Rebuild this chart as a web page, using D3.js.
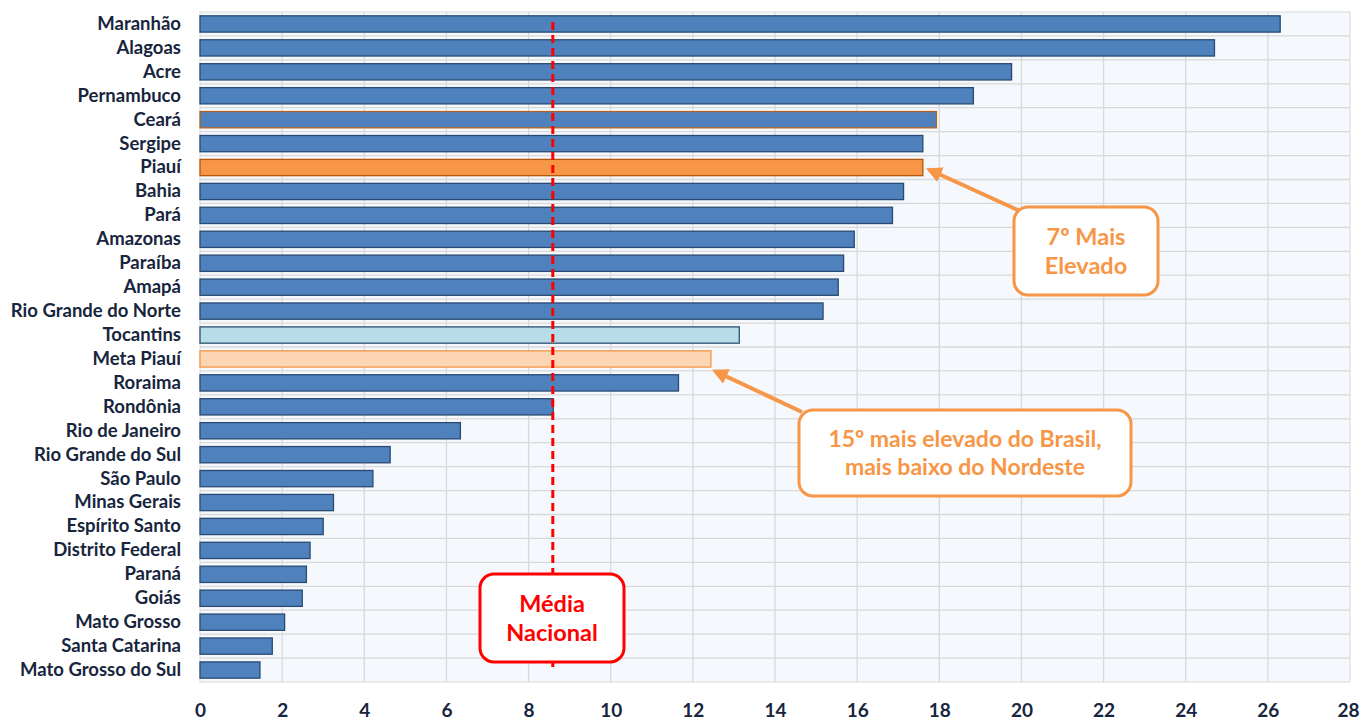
<!DOCTYPE html>
<html>
<head>
<meta charset="utf-8">
<script src="https://cdnjs.cloudflare.com/ajax/libs/d3/7.8.5/d3.min.js"></script>
<style>
  body { margin: 0; background: #fff; }
  text { font-family: Lato, "Open Sans", sans-serif; }
</style>
</head>
<body>
<div id="vis-parent"></div>
<script>
// data
var states = ['Maranhão','Alagoas','Acre','Pernambuco','Ceará','Sergipe','Piauí','Bahia','Pará',
  'Amazonas','Paraíba','Amapá','Rio Grande do Norte','Tocantins','Meta Piauí','Roraima','Rondônia',
  'Rio de Janeiro','Rio Grande do Sul','São Paulo','Minas Gerais','Espírito Santo','Distrito Federal',
  'Paraná','Goiás','Mato Grosso','Santa Catarina','Mato Grosso do Sul'];
var values = [26.3,24.7,19.76,18.83,17.93,17.6,17.6,17.13,16.86,
  15.93,15.67,15.54,15.17,13.13,12.44,11.65,8.6,
  6.34,4.63,4.21,3.25,3.0,2.68,2.59,2.49,2.06,1.76,1.46];
var mediaNacional = 8.59;
var xTicks = [0,2,4,6,8,10,12,14,16,18,20,22,24,26,28];

// special bars
var barStyle = {
  'Ceará':      { fill: '#4F81BD', stroke: '#B65F1C' },
  'Piauí':      { fill: '#F79646', stroke: '#B65708' },
  'Tocantins':  { fill: '#B7DEE8', stroke: '#2F4F6F' },
  'Meta Piauí': { fill: '#FCD5B5', stroke: '#F79646' }
};

var width = 1360, height = 720,
    margin = { top: 12, right: 10, bottom: 38, left: 200 },
    plotW = 1350 - margin.left,
    plotH = 682 - margin.top;

var svg = d3.select('#vis-parent').append('svg')
  .attr('width', width)
  .attr('height', height);

var x = d3.scaleLinear().domain([0,28]).range([0, plotW]);
var y = d3.scaleBand().domain(states).range([0, plotH]).paddingInner(0.32).paddingOuter(0.16);
var yGrid = d3.scaleBand().domain(states).range([0, plotH]);

var content = svg.append('g').attr('transform', translate(margin.left, margin.top));

// background + grid
content.append('rect')
  .attr('width', plotW).attr('height', plotH)
  .attr('fill', '#F5F8FC')
  .attr('stroke', '#D9D9D9');

content.selectAll('.vgrid').data(xTicks.slice(1, -1))
  .enter().append('line')
  .attr('class','vgrid')
  .attr('x1', function(d){ return x(d); }).attr('x2', function(d){ return x(d); })
  .attr('y1', 0).attr('y2', plotH)
  .attr('stroke', '#D9D9D9').attr('stroke-width', 1.3);

content.selectAll('.hgrid').data(states.slice(1))
  .enter().append('line')
  .attr('class','hgrid')
  .attr('x1', 0).attr('x2', plotW)
  .attr('y1', function(d){ return yGrid(d); }).attr('y2', function(d){ return yGrid(d); })
  .attr('stroke', '#D9D9D9').attr('stroke-width', 1.3);

// bars
content.selectAll('.bar').data(states)
  .enter().append('rect')
  .attr('class','bar')
  .attr('x', x(0))
  .attr('y', function(d){ return y(d); })
  .attr('width', function(d,i){ return x(values[i]) - x(0); })
  .attr('height', y.bandwidth())
  .attr('fill', function(d){ return barStyle[d] ? barStyle[d].fill : '#4F81BD'; })
  .attr('stroke', function(d){ return barStyle[d] ? barStyle[d].stroke : '#294B73'; })
  .attr('stroke-width', 1.3);

// y labels
var yAxis = d3.axisLeft(y).tickSize(0).tickPadding(19);
content.append('g').call(yAxis)
  .call(function(g){ g.select('.domain').remove(); })
  .selectAll('text')
  .attr('fill', '#17253D')
  .style('font-size', '18.5px')
  .style('font-weight', 'bold');

// x labels
var xAxis = d3.axisBottom(x).tickValues(xTicks).tickSize(0).tickPadding(22);
content.append('g').attr('transform', translate(0, plotH)).call(xAxis)
  .call(function(g){ g.select('.domain').remove(); })
  .selectAll('text')
  .attr('fill', '#17253D')
  .style('font-size', '19px')
  .style('font-weight', 'bold')
  // keep the last label inside the page
  .filter(function(d){ return d === 28; })
  .attr('text-anchor', 'end')
  .attr('dx', 9);

// media nacional line
content.append('line')
  .attr('x1', x(mediaNacional)).attr('x2', x(mediaNacional))
  .attr('y1', 10).attr('y2', 658)
  .attr('stroke', '#FF0000').attr('stroke-width', 3)
  .attr('stroke-dasharray', '8,5');

// arrow marker
var defs = svg.append('defs');
defs.append('marker')
  .attr('id', 'arrowOrange')
  .attr('viewBox', '0 0 10 10')
  .attr('refX', 8).attr('refY', 5)
  .attr('markerWidth', 4).attr('markerHeight', 4)
  .attr('orient', 'auto')
  .append('path')
  .attr('d', 'M0,0 L10,5 L0,10 z')
  .attr('fill', '#F79646');

// callouts
function callout(bx, by, bw, bh, color, lines, size){
  var g = svg.append('g');
  g.append('rect')
    .attr('x', bx).attr('y', by).attr('width', bw).attr('height', bh)
    .attr('rx', 14).attr('ry', 14)
    .attr('fill', '#fff')
    .attr('stroke', color).attr('stroke-width', 3);
  var lh = size * 1.25;
  var y0 = by + bh/2 - (lines.length - 1) * lh / 2;
  lines.forEach(function(l, i){
    g.append('text')
      .attr('x', bx + bw/2).attr('y', y0 + i*lh)
      .attr('dy', '0.35em')
      .attr('text-anchor', 'middle')
      .attr('fill', color)
      .style('font-size', size + 'px')
      .style('font-weight', 'bold')
      .text(l);
  });
}

function arrow(x1, y1, x2, y2){
  svg.append('line')
    .attr('x1', x1).attr('y1', y1).attr('x2', x2).attr('y2', y2)
    .attr('stroke', '#F79646').attr('stroke-width', 4)
    .attr('marker-end', 'url(#arrowOrange)');
}

var piauiY = margin.top + y('Piauí') + y.bandwidth()/2,
    metaY = margin.top + y('Meta Piauí') + y.bandwidth()/2 + y.bandwidth()/2 + 4;

arrow(1020, 211, margin.left + x(values[6]) + 6, piauiY + 2);
callout(1014, 207, 144, 88, '#F79646', ['7º Mais', 'Elevado'], 23.5);

arrow(802, 412, margin.left + x(values[14]) + 4, metaY);
callout(799, 410, 332, 86, '#F79646', ['15º mais elevado do Brasil,', 'mais baixo do Nordeste'], 23);

callout(480, 574, 144, 88, '#FF0000', ['Média', 'Nacional'], 23.5);

function translate(x,y){
  return "translate(" + x + "," + y + ")";
}
</script>
</body>
</html>
